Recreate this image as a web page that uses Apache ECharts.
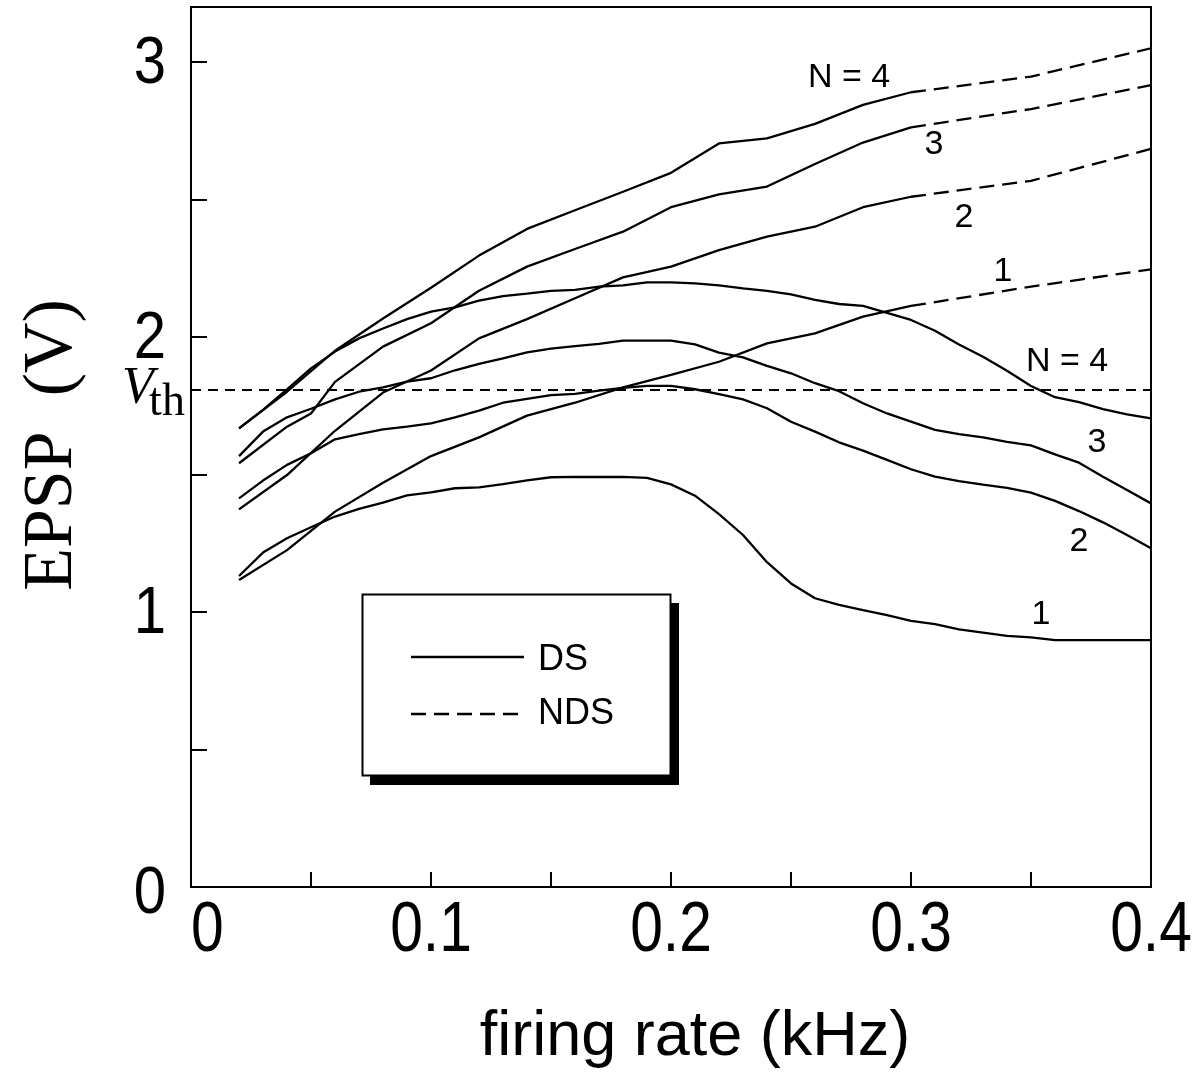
<!DOCTYPE html>
<html>
<head>
<meta charset="utf-8">
<script src="https://cdn.jsdelivr.net/npm/echarts@6.0.0/dist/echarts.min.js"></script>
<style>
html,body{margin:0;padding:0;background:#fff;}
#chart{width:1193px;height:1074px;}
</style>
</head>
<body>
<div id="chart"></div>
<script>
// ---------- data ----------
const xTicks = [0, 0.1, 0.2, 0.3, 0.4];
const yTicks = [0, 1, 2, 3];
const vth = 1.807;

// rising curves (solid part 0.02..0.30)
const riseX = [0.02,0.04,0.06,0.08,0.10,0.12,0.14,0.16,0.18,0.20,0.22,0.24,0.26,0.28,0.30];
const riseX3 = [0.02,0.04,0.05,0.06,0.08,0.10,0.12,0.14,0.16,0.18,0.20,0.22,0.24,0.26,0.28,0.30];
const rise4 = [1.668,1.801,1.950,2.067,2.179,2.296,2.393,2.461,2.528,2.597,2.704,2.722,2.775,2.844,2.890];
const rise3 = [1.541,1.674,1.722,1.837,1.965,2.050,2.168,2.256,2.320,2.383,2.472,2.519,2.547,2.629,2.707,2.762];
const rise2 = [1.373,1.498,1.659,1.798,1.878,1.995,2.065,2.141,2.217,2.256,2.316,2.365,2.401,2.472,2.510];
const rise1 = [1.116,1.225,1.365,1.470,1.567,1.635,1.714,1.761,1.817,1.862,1.910,1.977,2.013,2.074,2.113];

// rising curves (dashed part 0.30..0.40)
const dashX = [0.30,0.35,0.40];
const dash4 = [2.890,2.947,3.050];
const dash3 = [2.762,2.829,2.916];
const dash2 = [2.510,2.568,2.684];
const dash1 = [2.113,2.183,2.246];

// hump curves
const humpX = [0.02,0.03,0.04,0.05,0.06,0.07,0.08,0.09,0.10,0.11,0.12,0.13,0.14,0.15,0.16,0.17,0.18,0.19,0.20,0.21,
               0.22,0.23,0.24,0.25,0.26,0.27,0.28,0.29,0.30,0.31,0.32,0.33,0.34,0.35,0.36,0.37,0.38,0.39,0.40];
const hump4 = [1.668,1.735,1.810,1.886,1.947,1.995,2.031,2.065,2.092,2.108,2.132,2.149,2.158,2.168,2.171,2.183,2.188,2.199,2.199,2.195,
               2.188,2.177,2.168,2.155,2.135,2.120,2.113,2.088,2.062,2.023,1.973,1.928,1.877,1.822,1.781,1.763,1.738,1.719,1.704];
const hump3 = [1.567,1.656,1.708,1.739,1.773,1.801,1.817,1.838,1.850,1.879,1.902,1.922,1.944,1.958,1.967,1.975,1.987,1.987,1.987,1.973,
               1.943,1.926,1.895,1.868,1.832,1.803,1.759,1.722,1.692,1.662,1.647,1.635,1.619,1.606,1.573,1.543,1.492,1.444,1.395];
const hump2 = [1.413,1.478,1.535,1.577,1.628,1.647,1.664,1.674,1.686,1.708,1.732,1.761,1.775,1.789,1.793,1.805,1.815,1.822,1.822,1.810,
               1.792,1.773,1.741,1.692,1.656,1.617,1.587,1.553,1.519,1.492,1.476,1.463,1.451,1.434,1.404,1.367,1.326,1.280,1.232];
const hump1 = [1.131,1.216,1.268,1.308,1.347,1.375,1.398,1.424,1.435,1.450,1.453,1.465,1.479,1.490,1.491,1.491,1.491,1.488,1.464,1.423,
               1.356,1.280,1.181,1.104,1.050,1.026,1.007,0.989,0.968,0.956,0.937,0.925,0.913,0.908,0.898,0.898,0.898,0.898,0.898];

const vthX = [0, 0.4];
const legendNames = ['DS', 'NDS'];
const curveLabels = ['N = 4', '3', '2', '1', 'N = 4', '3', '2', '1'];

// ---------- chart ----------
const pairs = (xs, ys) => xs.map((x, i) => [x, ys[i]]);
const SANS = '"Liberation Sans", Arial, sans-serif';
const SERIF = '"Liberation Serif", "Times New Roman", serif';
const LW = 2.3;

function solid(name, xs, ys) {
  return { name, type: 'line', data: pairs(xs, ys), showSymbol: false, symbol: 'none',
    lineStyle: { color: '#000', width: LW }, silent: true, z: 3 };
}
function dashed(name, xs, ys) {
  return { name, type: 'line', data: pairs(xs, ys), showSymbol: false, symbol: 'none',
    lineStyle: { color: '#000', width: LW, type: [15, 8] }, silent: true, z: 3 };
}
function txt(x, y, text, font, align, extra) {
  return Object.assign({ type: 'text', x, y, z: 12,
    style: { text, font, fill: '#000', textAlign: align, textVerticalAlign: 'middle', align, verticalAlign: 'middle' } }, extra || {});
}

const chart = echarts.init(document.getElementById('chart'), null, { renderer: 'canvas' });
chart.setOption({
  animation: false,
  backgroundColor: '#fff',
  grid: { left: 191, top: 7, width: 960, height: 880, containLabel: false, outerBoundsMode: 'none',
          show: true, borderColor: '#000', borderWidth: 2, backgroundColor: 'transparent' },
  xAxis: {
    type: 'value', min: 0, max: 0.4, interval: 0.05,
    axisLine: { show: true, lineStyle: { color: '#000', width: 2 } },
    axisTick: { show: true, inside: true, length: 15, lineStyle: { color: '#000', width: 2 } },
    splitLine: { show: false },
    axisLabel: { show: false }
  },
  yAxis: {
    type: 'value', min: 0, max: 3.2, interval: 0.5,
    axisLine: { show: true, lineStyle: { color: '#000', width: 2 } },
    axisTick: { show: true, inside: true, length: 16, lineStyle: { color: '#000', width: 2 } },
    splitLine: { show: false },
    axisLabel: { show: false }
  },
  series: [
    solid('rise4', riseX, rise4), solid('rise3', riseX3, rise3), solid('rise2', riseX, rise2), solid('rise1', riseX, rise1),
    dashed('dash4', dashX, dash4), dashed('dash3', dashX, dash3), dashed('dash2', dashX, dash2), dashed('dash1', dashX, dash1),
    solid('hump4', humpX, hump4), solid('hump3', humpX, hump3), solid('hump2', humpX, hump2), solid('hump1', humpX, hump1),
    { name: 'Vth', type: 'line', data: pairs(vthX, [vth, vth]), showSymbol: false, symbol: 'none', silent: true, z: 2,
      lineStyle: { color: '#000', width: 2, type: [10, 7], dashOffset: 0 } }
  ]
});

// tick labels (condensed look), placed through the axis scales
const xLabelEls = xTicks.map((t, i) => {
  const p = chart.convertToPixel({ xAxisIndex: 0, yAxisIndex: 0 }, [t, 0]);
  return txt(p[0], p[1] + 45, String(t), '70px ' + SANS, i === 0 ? 'left' : 'center', { scaleX: 0.84 });
});
const yLabelEls = yTicks.map((t, i) => {
  const p = chart.convertToPixel({ xAxisIndex: 0, yAxisIndex: 0 }, [0, t]);
  return txt(p[0] - 25, p[1] + (i === 0 ? 8 : 3), String(t), '66px ' + SANS, 'right', { scaleX: 0.88 });
});

const labelPos = [[849, 78], [934, 145], [964, 218], [1003, 272], [1067, 362], [1097, 443], [1079, 542], [1041, 615]];

chart.setOption({
  graphic: [
    // legend box shadow + box
    { type: 'rect', shape: { x: 370, y: 603, width: 309, height: 182 }, style: { fill: '#000' }, z: 10 },
    { type: 'rect', shape: { x: 362.5, y: 594.5, width: 308, height: 181 }, style: { fill: '#fff', stroke: '#000', lineWidth: 2 }, z: 11 },
    { type: 'line', shape: { x1: 411, y1: 657, x2: 524, y2: 657 }, style: { stroke: '#000', lineWidth: LW }, z: 12 },
    { type: 'line', shape: { x1: 411, y1: 714, x2: 524, y2: 714 }, style: { stroke: '#000', lineWidth: LW, lineDash: [15, 8] }, z: 12 },
    txt(538, 660, legendNames[0], '36px ' + SANS, 'left'),
    txt(538, 714, legendNames[1], '36px ' + SANS, 'left'),
    // curve labels
    ...labelPos.map((p, i) => txt(p[0], p[1], curveLabels[i], '34px ' + SANS, 'center')),
    // V_th
    txt(138, 389, 'V', 'italic 52px ' + SERIF, 'center'),
    txt(167, 403, 'th', '46px ' + SERIF, 'center'),
    // axis titles
    txt(53, 445, 'EPSP  (V)', '70px ' + SERIF, 'center', { rotation: Math.PI / 2 }),
    txt(695, 1038, 'firing rate (kHz)', '63px ' + SANS, 'center'),
    ...xLabelEls,
    ...yLabelEls
  ]
});
</script>
</body>
</html>
